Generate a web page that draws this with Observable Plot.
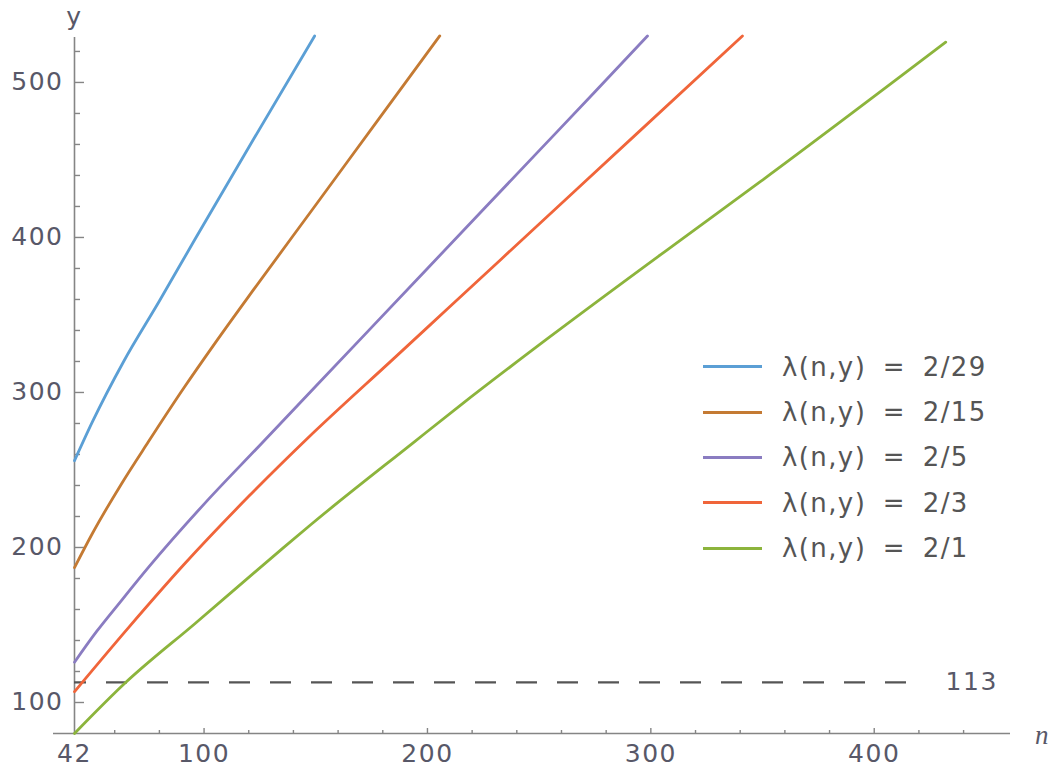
<!DOCTYPE html>
<html>
<head>
<meta charset="utf-8">
<script src="https://cdn.jsdelivr.net/npm/d3@7"></script>
<script src="https://cdn.jsdelivr.net/npm/@observablehq/plot@0.6"></script>
<style>
  html, body { margin: 0; padding: 0; background: #fff; }
  #wrap { position: relative; width: 1053px; height: 767px; }
  #wrap svg text { letter-spacing: 1.5px; }
  #legend { position: absolute; left: 703px; top: 344px; font-family: "DejaVu Sans", sans-serif; font-size: 26px; color: #555; letter-spacing: 1.4px; }
  #legend .row { display: flex; align-items: center; height: 45.4px; white-space: nowrap; }
  #legend .sw { width: 59px; height: 3px; margin-right: 20px; }
  #legend .lab { word-spacing: 7px; }
</style>
</head>
<body>
<div id="wrap"></div>
<script>
// ---- data ----
const seriesLabels = ["λ(n,y) = 2/29", "λ(n,y) = 2/15", "λ(n,y) = 2/5", "λ(n,y) = 2/3", "λ(n,y) = 2/1"];
const seriesColors = ["#5b9fd5", "#c47a33", "#8a7cc1", "#f0653a", "#8cb43c"];

const n_2_29 = [42, 50, 64, 80, 96, 122, 149.5];
const y_2_29 = [256, 281, 320, 359, 399, 463, 530];

const n_2_15 = [42, 50, 63, 75, 91, 105, 122, 149, 178, 205.5];
const y_2_15 = [187, 209, 241, 268, 303, 332, 366, 419, 476, 530];

const n_2_5 = [42, 52, 62, 75, 100, 125, 150, 175, 200, 225, 250, 275, 298.5];
const y_2_5 = [126, 146, 164, 187, 228, 266, 304, 342, 380, 418, 456, 494, 530];

const n_2_3 = [42, 66, 91, 120, 146, 185, 209, 233, 269, 341];
const y_2_3 = [107, 148, 189, 233, 270, 322, 354, 386, 434, 530];

const n_2_1 = [42, 65, 96, 134, 148, 194, 215, 254, 313, 349, 432];
const y_2_1 = [80, 113, 151, 198, 215, 268, 292, 335, 398, 436, 526];

const thresholdY = [113];
const xTickLabels = [42, 100, 200, 300, 400];
const xMajorTicks = [100, 200, 300, 400];
const xMinorTicks = [60, 80, 120, 140, 160, 180, 220, 240, 260, 280, 320, 340, 360, 380, 420, 440];
const yMajorTicks = [100, 200, 300, 400, 500];
const yMinorTicks = [120, 140, 160, 180, 220, 240, 260, 280, 320, 340, 360, 380, 420, 440, 460, 480, 520];

// ---- build table ----
const seriesN = [n_2_29, n_2_15, n_2_5, n_2_3, n_2_1];
const seriesY = [y_2_29, y_2_15, y_2_5, y_2_3, y_2_1];
const rows = [];
seriesLabels.forEach((lab, i) => {
  seriesN[i].forEach((n, j) => rows.push({series: lab, n, y: seriesY[i][j]}));
});

const axisGray = "#858585";
const textGray = "#585868";

const chart = Plot.plot({
  width: 1053,
  height: 767,
  marginLeft: 74,
  marginRight: 43,
  marginTop: 37,
  marginBottom: 34,
  style: {fontFamily: "DejaVu Sans, sans-serif", fontSize: "25px", color: textGray, background: "white", overflow: "visible"},
  x: {domain: [42, 461], label: null},
  y: {domain: [80, 529], label: null},
  color: {domain: seriesLabels, range: seriesColors},
  marks: [
    // axis lines
    Plot.ruleY([80], {x1: 32.6, x2: 461, stroke: axisGray, strokeWidth: 1.6, clip: false}),
    Plot.ruleX([42], {y1: 80, y2: 529, stroke: axisGray, strokeWidth: 1.6}),
    // inward ticks
    Plot.axisY(yMajorTicks, {anchor: "right", frameAnchor: "left", text: null, tickSize: 9, stroke: axisGray, strokeWidth: 1.4, label: null}),
    Plot.axisY(yMinorTicks, {anchor: "right", frameAnchor: "left", text: null, tickSize: 5, stroke: axisGray, strokeWidth: 1.4, label: null}),
    Plot.axisX(xMajorTicks, {anchor: "top", frameAnchor: "bottom", text: null, tickSize: 6, stroke: axisGray, strokeWidth: 1.4, label: null}),
    Plot.axisX(xMinorTicks, {anchor: "top", frameAnchor: "bottom", text: null, tickSize: 4, stroke: axisGray, strokeWidth: 1.4, label: null}),
    // tick labels
    Plot.axisY(yMajorTicks, {anchor: "left", tickSize: 0, tickPadding: 11, label: null, fill: textGray}),
    Plot.axisX(xTickLabels, {anchor: "bottom", tickSize: 0, tickPadding: 11, label: null, fill: textGray}),
    // axis names
    Plot.text(["y"], {x: 42, y: 529, dy: -21, text: d => d, fill: textGray, fontSize: 25}),
    Plot.text(["n"], {x: 461, y: 80, dx: 32, dy: 2, text: d => d, fill: textGray, fontStyle: "italic", fontSize: 27, fontFamily: "Liberation Serif, serif"}),
    // threshold line
    Plot.ruleY(thresholdY, {x1: 42, x2: 423, stroke: "#555", strokeWidth: 2.2, strokeDasharray: "21,20", strokeDashoffset: 9}),
    Plot.text(thresholdY, {x: 423, y: d => d, dx: 20, text: d => String(d), textAnchor: "start", fill: textGray, fontSize: 25}),
    // curves
    Plot.line(rows, {x: "n", y: "y", z: "series", stroke: "series", strokeWidth: 2.8, curve: "monotone-x"})
  ]
});

const wrap = document.getElementById("wrap");
wrap.appendChild(chart);

// legend overlay
const legend = document.createElement("div");
legend.id = "legend";
seriesLabels.forEach((lab, i) => {
  const row = document.createElement("div");
  row.className = "row";
  const sw = document.createElement("div");
  sw.className = "sw";
  sw.style.background = seriesColors[i];
  const t = document.createElement("span");
  t.className = "lab";
  t.textContent = lab;
  row.appendChild(sw);
  row.appendChild(t);
  legend.appendChild(row);
});
wrap.appendChild(legend);
</script>
</body>
</html>
